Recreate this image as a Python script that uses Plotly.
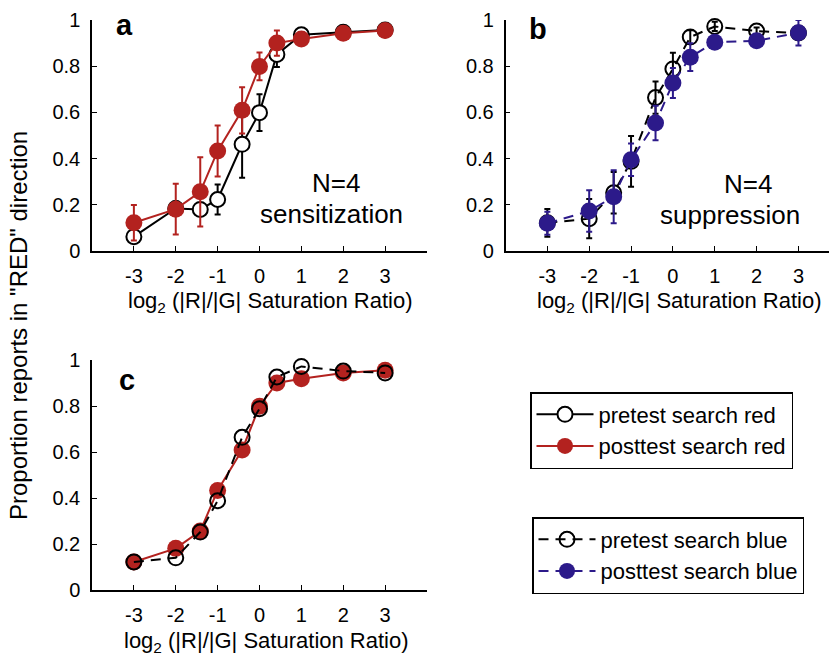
import plotly.graph_objects as go

# ---- data ----
x_vals = [-3, -2, -1.415, -1, -0.415, 0, 0.415, 1, 2, 3]
x_ticks = [-3, -2, -1, 0, 1, 2, 3]
y_ticks = [0, 0.2, 0.4, 0.6, 0.8, 1]
y_tick_labels = ["0", "0.2", "0.4", "0.6", "0.8", "1"]

pre_red = [0.062, 0.184, 0.18, 0.223, 0.462, 0.599, 0.851, 0.936, 0.947, 0.957]
pre_red_err = [0.02, 0.03, 0.02, 0.065, 0.145, 0.08, 0.055, 0.015, 0.015, 0.01]
post_red = [0.122, 0.181, 0.256, 0.433, 0.609, 0.799, 0.9, 0.918, 0.943, 0.955]
post_red_err = [0.077, 0.11, 0.15, 0.11, 0.1, 0.06, 0.055, 0.015, 0.015, 0.01]

pre_blue = [0.122, 0.14, 0.252, 0.388, 0.664, 0.788, 0.926, 0.972, 0.952, 0.944]
pre_blue_err = [0.06, 0.085, 0.09, 0.11, 0.07, 0.07, 0.03, 0.02, 0.015, 0.015]
post_blue = [0.12, 0.173, 0.235, 0.395, 0.554, 0.727, 0.839, 0.904, 0.91, 0.945]
post_blue_err = [0.05, 0.09, 0.115, 0.07, 0.075, 0.065, 0.06, 0.02, 0.02, 0.055]

names = ["pretest search red", "posttest search red",
         "pretest search blue", "posttest search blue"]

RED = "#B3221F"
BLUE = "#2C1A8A"
BLACK = "#000000"
FONT = "Liberation Sans, Arial, sans-serif"

W, H = 829, 660


def px(v):
    return v / W


def py(v):
    return 1 - v / H


fig = go.Figure()


def err(arr, color):
    return dict(type="data", array=arr, visible=True, color=color,
                thickness=2, width=3)


# Panel a
fig.add_trace(go.Scatter(x=x_vals, y=pre_red, mode="lines+markers",
                         name=names[0], legend="legend",
                         line=dict(color=BLACK, width=2),
                         marker=dict(symbol="circle", size=15, color="white",
                                     line=dict(color=BLACK, width=2)),
                         error_y=err(pre_red_err, BLACK), cliponaxis=False,
                         xaxis="x", yaxis="y"))
fig.add_trace(go.Scatter(x=x_vals, y=post_red, mode="lines+markers",
                         name=names[1], legend="legend",
                         line=dict(color=RED, width=2),
                         marker=dict(symbol="circle", size=17, color=RED,
                                     line=dict(color=RED, width=0)),
                         error_y=err(post_red_err, RED), cliponaxis=False,
                         xaxis="x", yaxis="y"))

# Panel b
fig.add_trace(go.Scatter(x=x_vals, y=pre_blue, mode="lines+markers",
                         name=names[2], legend="legend2",
                         line=dict(color=BLACK, width=2, dash="10px,7px"),
                         marker=dict(symbol="circle-open", size=15,
                                     color=BLACK, line=dict(width=2)),
                         error_y=err(pre_blue_err, BLACK), cliponaxis=False,
                         xaxis="x2", yaxis="y2"))
fig.add_trace(go.Scatter(x=x_vals, y=post_blue, mode="lines+markers",
                         name=names[3], legend="legend2",
                         line=dict(color=BLUE, width=2, dash="10px,7px"),
                         marker=dict(symbol="circle", size=17, color=BLUE,
                                     line=dict(color=BLUE, width=0)),
                         error_y=err(post_blue_err, BLUE), cliponaxis=False,
                         xaxis="x2", yaxis="y2"))

# Panel c
fig.add_trace(go.Scatter(x=x_vals, y=post_red, mode="lines+markers",
                         showlegend=False,
                         line=dict(color=RED, width=2),
                         marker=dict(symbol="circle", size=17, color=RED),
                         cliponaxis=False, xaxis="x3", yaxis="y3"))
fig.add_trace(go.Scatter(x=x_vals, y=pre_blue, mode="lines+markers",
                         showlegend=False,
                         line=dict(color=BLACK, width=2, dash="10px,7px"),
                         marker=dict(symbol="circle-open", size=15,
                                     color=BLACK, line=dict(width=2)),
                         cliponaxis=False, xaxis="x3", yaxis="y3"))

axis_common = dict(showline=True, linecolor=BLACK, linewidth=1.5,
                   ticks="inside", ticklen=5, tickwidth=1, tickcolor=BLACK,
                   showgrid=False, zeroline=False, automargin=False,
                   tickfont=dict(family=FONT, size=20, color=BLACK))

xa = dict(axis_common, tickvals=x_ticks, ticktext=[str(t) for t in x_ticks],
          ticklabelstandoff=6)
ya = dict(axis_common, tickvals=y_ticks, ticktext=y_tick_labels,
          range=[0, 1], ticklabelstandoff=6)

fig.update_layout(
    width=W, height=H,
    margin=dict(l=0, r=0, t=0, b=0, pad=0, autoexpand=False),
    paper_bgcolor="white", plot_bgcolor="white",
    font=dict(family=FONT, color=BLACK),
    xaxis=dict(xa, domain=[px(92), px(427)], range=[-4, 4], anchor="y"),
    yaxis=dict(ya, domain=[py(251), py(20)], anchor="x"),
    xaxis2=dict(xa, domain=[px(505.5), 1.0], range=[-4, 3.73], anchor="y2"),
    yaxis2=dict(ya, domain=[py(251), py(20)], anchor="x2"),
    xaxis3=dict(xa, domain=[px(92), px(427)], range=[-4, 4], anchor="y3"),
    yaxis3=dict(ya, domain=[py(590), py(360)], anchor="x3"),
    legend=dict(x=px(530), y=py(392), xanchor="left", yanchor="top",
                bordercolor=BLACK, borderwidth=1.5, bgcolor="white",
                font=dict(family=FONT, size=22, color=BLACK),
                itemwidth=57, tracegroupgap=0),
    legend2=dict(x=px(532), y=py(517), xanchor="left", yanchor="top",
                 bordercolor=BLACK, borderwidth=1.5, bgcolor="white",
                 font=dict(family=FONT, size=22, color=BLACK),
                 itemwidth=57, tracegroupgap=0),
)

xtitle = "log<sub>2</sub> (|R|/|G| Saturation Ratio)"
ann = [
    dict(text=xtitle, x=px(270), y=py(302)),
    dict(text=xtitle, x=px(679), y=py(302)),
    dict(text=xtitle, x=px(266), y=py(642)),
    dict(text="<b>a</b>", x=px(124), y=py(25), size=29),
    dict(text="<b>b</b>", x=px(538), y=py(29), size=29),
    dict(text="<b>c</b>", x=px(127), y=py(380), size=29),
    dict(text="N=4", x=px(336), y=py(183), size=26),
    dict(text="sensitization", x=px(331), y=py(214), size=26),
    dict(text="N=4", x=px(748), y=py(184), size=26),
    dict(text="suppression", x=px(730), y=py(215), size=26),
]
for a in ann:
    fig.add_annotation(xref="paper", yref="paper", x=a["x"], y=a["y"],
                       text=a["text"], showarrow=False,
                       xanchor="center", yanchor="middle",
                       font=dict(family=FONT, size=a.get("size", 22),
                                 color=BLACK))

fig.add_annotation(xref="paper", yref="paper", x=px(18), y=py(326),
                   text='Proportion reports in "RED" direction',
                   textangle=-90, showarrow=False,
                   xanchor="center", yanchor="middle",
                   font=dict(family=FONT, size=24, color=BLACK))

fig.write_html("out.html")
